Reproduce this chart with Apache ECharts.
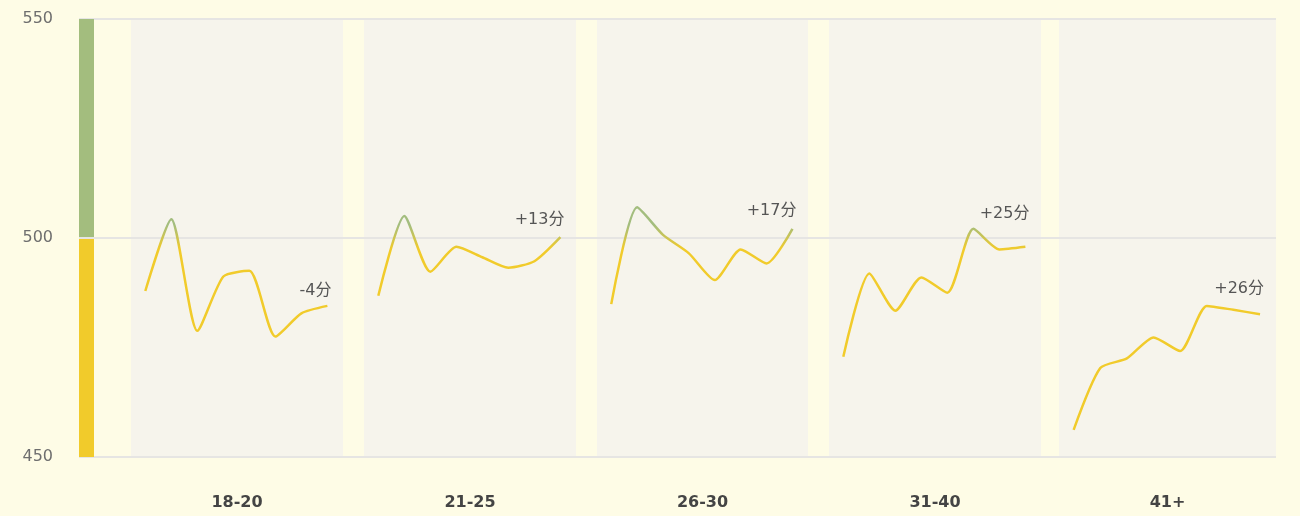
<!DOCTYPE html>
<html>
<head>
<meta charset="utf-8">
<script src="https://cdn.jsdelivr.net/npm/echarts@6/dist/echarts.min.js"></script>
<style>
html,body{margin:0;padding:0;background:#fefce6;}
#chart{width:1300px;height:516px;}
</style>
</head>
<body>
<div id="chart"></div>
<script>
// ---- data ----
const categories = ['18-20', '21-25', '26-30', '31-40', '41+'];
const scores1820 = [487.9, 504.3, 478.8, 491.2, 492.5, 477.5, 482.8, 484.5];
const scores2125 = [486.8, 505.0, 492.3, 498.0, 495.6, 493.2, 494.7, 500.2];
const scores2630 = [484.9, 507.0, 500.7, 496.5, 490.4, 497.4, 494.2, 502.1];
const scores3140 = [472.9, 491.9, 483.4, 491.0, 487.5, 502.1, 497.4, 498.0];
const scores41 = [456.2, 470.3, 472.5, 477.3, 474.2, 484.5, 483.6, 482.6];
const changeLabels = ['-4分', '+13分', '+17分', '+25分', '+26分'];
const yTicks = [450, 500, 550];
const threshold = 500;

// ---- layout / style ----
const seriesValues = [scores1820, scores2125, scores2630, scores3140, scores41];
const panelLeft = [131, 364, 597, 829, 1059];
const panelWidth = [212, 212, 211, 212, 217];
const labelOffsetY = [-7, -9, -10, -25, -17];
const TOP = 19, BOTTOM = 59;
const GREEN = '#a3bd7e', YELLOW = '#f1cb2b';
const FONT = 'DejaVu Sans, Noto Sans CJK SC, sans-serif';

const grid = [{ left: 79, right: 24, top: TOP, bottom: BOTTOM, show: false, outerBoundsMode: 'none', containLabel: false }];
const xAxis = [{ type: 'value', gridIndex: 0, min: 0, max: 1, show: false }];
const yAxis = [{
  type: 'value', gridIndex: 0, min: yTicks[0], max: yTicks[yTicks.length - 1], interval: 50,
  axisLine: { show: false }, axisTick: { show: false },
  axisLabel: { color: '#6e6e6e', fontSize: 16, margin: 26, fontFamily: FONT },
  splitLine: { lineStyle: { color: '#e6e5e3', width: 2 } }
}];
const series = [];

categories.forEach((cat, i) => {
  const gi = i + 1;
  grid.push({ left: panelLeft[i], width: panelWidth[i], top: TOP, bottom: BOTTOM, show: true,
    backgroundColor: '#f6f4ec', borderWidth: 0, outerBoundsMode: 'none', containLabel: false });
  xAxis.push({ type: 'value', gridIndex: gi, min: -0.55, max: seriesValues[i].length - 1 + 0.6,
    name: cat, nameLocation: 'middle', nameGap: 38,
    nameTextStyle: { fontSize: 16, fontWeight: 'bold', color: '#444', fontFamily: FONT },
    axisLine: { show: false }, axisTick: { show: false }, axisLabel: { show: false }, splitLine: { show: false } });
  yAxis.push({ type: 'value', gridIndex: gi, min: yTicks[0], max: yTicks[yTicks.length - 1], interval: 50,
    axisLine: { show: false }, axisTick: { show: false }, axisLabel: { show: false },
    splitLine: { lineStyle: { color: '#e6e5e3', width: 2 } } });
  series.push({
    type: 'line', xAxisIndex: gi, yAxisIndex: gi, smooth: 0.22, showSymbol: false,
    lineStyle: { width: 2.5 },
    data: seriesValues[i].map((v, k) => [k, v]),
    endLabel: { show: true, formatter: changeLabels[i], align: 'right', verticalAlign: 'bottom',
      distance: 4, offset: [0, labelOffsetY[i]], color: '#555', fontSize: 16, fontFamily: FONT }
  });
});
// dummy series for the threshold legend bar
series.push({ type: 'line', xAxisIndex: 0, yAxisIndex: 0, data: [], silent: true });

const option = {
  backgroundColor: '#fefce6',
  animation: false,
  textStyle: { fontFamily: FONT },
  grid, xAxis, yAxis, series,
  visualMap: [
    { type: 'continuous', show: false, seriesIndex: [0, 1, 2, 3, 4], dimension: 1,
      min: threshold - 2.5, max: threshold + 3, inRange: { color: [YELLOW, GREEN] } },
    { type: 'piecewise', show: true, seriesIndex: [5], orient: 'vertical', left: 79, top: TOP,
      padding: 0, itemWidth: 15, itemHeight: 218, itemGap: 2, itemSymbol: 'rect', showLabel: false,
      selectedMode: false, textStyle: { fontSize: 0 },
      pieces: [{ gt: threshold, color: GREEN }, { lte: threshold, color: YELLOW }] }
  ]
};
const chart = echarts.init(document.getElementById('chart'));
chart.setOption(option);
</script>
</body>
</html>
